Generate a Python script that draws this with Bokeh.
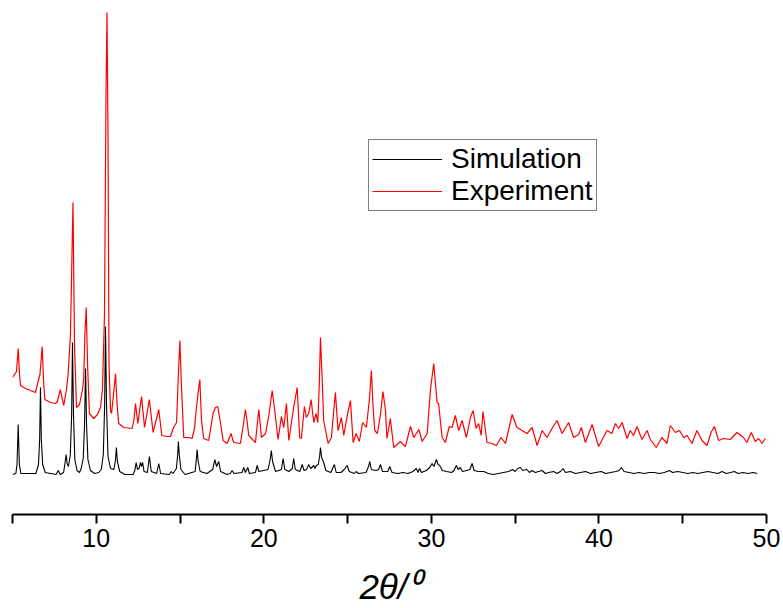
from bokeh.plotting import figure
from bokeh.models import Range1d, FixedTicker, Legend, LegendItem
from bokeh.embed import file_html
from bokeh.resources import INLINE

# Simulated pattern (2theta in degrees, intensity a.u.)
sim_theta = [5.00, 5.20, 5.27, 5.34, 5.41, 5.50, 6.40, 6.55, 6.62, 6.67, 6.72, 6.80, 6.95, 7.60, 7.73, 7.85,
             8.05, 8.14, 8.20, 8.26, 8.34, 8.45, 8.53, 8.58, 8.64, 8.72, 8.85, 9.00, 9.10, 9.16, 9.22, 9.30,
             9.36, 9.42, 9.50, 9.65, 9.90, 10.15, 10.30, 10.42, 10.50, 10.55, 10.61, 10.70, 10.85, 11.05, 11.15,
             11.20, 11.26, 11.40, 11.70, 12.20, 12.30, 12.38, 12.46, 12.55, 12.64, 12.70, 12.77, 12.85, 13.05,
             13.17, 13.28, 13.60, 13.73, 13.84, 14.35, 14.47, 14.58, 14.78, 14.86, 14.90, 14.95, 15.05, 15.30,
             15.90, 15.97, 16.02, 16.08, 16.20, 16.60, 16.95, 17.07, 17.18, 17.31, 17.42, 17.80, 18.00, 18.11,
             18.22, 18.70, 18.80, 18.90, 19.04, 19.14, 19.50, 19.60, 19.70, 20.25, 20.38, 20.45, 20.52, 20.70,
             21.05, 21.15, 21.25, 21.50, 21.70, 21.78, 21.88, 22.15, 22.29, 22.40, 22.55, 22.68, 22.80, 22.98,
             23.05, 23.14, 23.25, 23.33, 23.38, 23.45, 23.57, 23.70, 24.00, 24.21, 24.32, 24.60, 24.80, 24.97,
             25.10, 25.40, 25.51, 25.65, 26.10, 26.25, 26.32, 26.42, 26.70, 26.85, 26.96, 27.08, 27.40, 27.51,
             27.65, 28.00, 28.30, 28.60, 28.90, 29.10, 29.20, 29.30, 29.40, 29.70, 29.90, 30.04, 30.15, 30.30,
             30.40, 30.50, 30.65, 30.90, 31.20, 31.35, 31.49, 31.60, 31.73, 31.85, 32.10, 32.30, 32.43, 32.55,
             32.80, 33.12, 33.40, 33.70, 34.00, 34.30, 34.60, 34.85, 35.00, 35.15, 35.31, 35.45, 35.70, 35.85,
             36.01, 36.20, 36.40, 36.61, 36.80, 37.00, 37.30, 37.50, 37.70, 37.86, 38.00, 38.30, 38.60, 38.90,
             39.20, 39.50, 39.80, 40.14, 40.40, 40.70, 41.00, 41.20, 41.34, 41.50, 41.80, 42.10, 42.40, 42.70,
             43.00, 43.30, 43.60, 43.90, 44.21, 44.40, 44.70, 45.00, 45.30, 45.60, 45.90, 46.20, 46.50, 46.80,
             47.10, 47.35, 47.60, 47.85, 48.08, 48.30, 48.60, 48.90, 49.20, 49.45]
sim_int = [40, 41, 50, 90, 50, 41, 41, 50, 75, 127, 75, 50, 42, 40, 44, 40,
           42, 52, 60, 51, 48, 60, 100, 172, 100, 55, 44, 42, 46, 51, 56, 90,
           146, 90, 55, 44, 41, 42, 45, 60, 110, 188, 110, 58, 46, 45, 55,
           67, 53, 43, 40, 40, 44, 52, 45, 46, 52, 48, 52, 43, 42,
           58, 43, 41, 51, 41, 40, 43, 41, 46, 60, 73, 60, 45, 40,
           43, 55, 65, 53, 43, 41, 45, 55, 48, 53, 43, 40, 41, 44,
           41, 42, 47, 42, 47, 41, 42, 49, 43, 45, 55, 64, 53, 43,
           45, 56, 45, 43, 46, 56, 45, 43, 50, 44, 45, 50, 46, 49,
           46, 49, 50, 58, 67, 57, 52, 44, 42, 50, 42, 42, 45, 49,
           43, 41, 43, 41, 42, 48, 53, 45, 44, 45, 50, 43, 43, 48,
           42, 41, 42, 41, 43, 46, 42, 46, 42, 44, 47, 51, 48, 55,
           50, 49, 44, 43, 42, 44, 49, 45, 47, 43, 44, 45, 51, 44,
           43, 43, 41, 40, 41, 42, 43, 45, 43, 46, 47, 44, 45, 42,
           44, 42, 43, 44, 41, 42, 43, 41, 43, 46, 42, 43, 41, 42,
           43, 41, 42, 43, 41, 42, 43, 44, 47, 43, 42, 41, 42, 41,
           42, 42, 41, 42, 44, 42, 43, 42, 41, 42, 41, 42, 43, 42,
           41, 43, 41, 42, 43, 41, 42, 41, 42, 41]

# Experimental pattern (2theta in degrees, intensity a.u.)
exp_theta = [5.00, 5.12, 5.24, 5.34, 5.42, 5.48, 5.78, 6.07, 6.37, 6.51, 6.64, 6.77, 6.85, 6.93, 7.27, 7.57,
             7.68, 7.86, 7.95, 8.06, 8.22, 8.32, 8.46, 8.61, 8.70, 8.82, 9.00, 9.18, 9.25, 9.32, 9.40, 9.48,
             9.59, 9.85, 10.07, 10.25, 10.37, 10.49, 10.58, 10.64, 10.70, 10.76, 10.85, 10.91, 11.03, 11.15,
             11.24, 11.34, 11.64, 12.14, 12.25, 12.34, 12.48, 12.70, 12.88, 13.17, 13.39, 13.73, 13.91, 14.19,
             14.43, 14.61, 14.79, 14.90, 14.99, 15.08, 15.22, 15.50, 15.72, 15.86, 15.96, 16.10, 16.18, 16.28,
             16.41, 16.71, 16.97, 17.11, 17.25, 17.36, 17.57, 17.81, 18.04, 18.20, 18.60, 18.78, 18.90, 18.99,
             19.10, 19.50, 19.70, 19.86, 20.10, 20.29, 20.50, 20.65, 20.85, 21.05, 21.19, 21.35, 21.49, 21.78,
             21.99, 22.14, 22.24, 22.42, 22.54, 22.68, 22.82, 22.98, 23.12, 23.22, 23.31, 23.38, 23.47, 23.57,
             23.84, 24.03, 24.18, 24.27, 24.43, 24.63, 24.77, 24.99, 25.17, 25.33, 25.51, 25.70, 25.90, 26.12,
             26.30, 26.42, 26.51, 26.62, 26.78, 26.96, 27.11, 27.26, 27.35, 27.55, 27.75, 28.15, 28.45, 28.75,
             28.95, 29.25, 29.45, 29.75, 29.94, 30.14, 30.34, 30.43, 30.64, 30.83, 31.07, 31.23, 31.43, 31.63,
             31.83, 32.09, 32.33, 32.49, 32.67, 32.82, 32.97, 33.08, 33.32, 33.62, 33.88, 34.16, 34.42, 34.82,
             35.11, 35.41, 35.71, 36.01, 36.31, 36.61, 36.90, 37.20, 37.50, 37.80, 38.19, 38.49, 38.79, 38.95,
             39.19, 39.59, 39.98, 40.48, 40.78, 40.98, 41.18, 41.38, 41.68, 41.87, 42.07, 42.27, 42.57, 42.87,
             43.07, 43.42, 43.76, 44.06, 44.26, 44.56, 44.81, 45.05, 45.26, 45.55, 45.85, 46.15, 46.45, 46.69,
             46.89, 47.14, 47.44, 47.84, 48.24, 48.63, 48.83, 49.09, 49.33, 49.53, 49.73, 49.93]
exp_int = [137, 140, 143, 166, 140, 129, 126, 124, 122, 132, 140, 168, 135, 115, 112, 111,
           113, 125, 117, 109, 125, 140, 180, 312, 170, 107, 110, 125, 136, 180, 207, 150,
           101, 96, 100, 107, 125, 200, 420, 502, 380, 150, 104, 101, 120, 141,
           110, 91, 87, 86, 95, 111, 91, 118, 87, 115, 82, 105, 79, 78,
           78, 87, 92, 140, 174, 130, 77, 77, 76, 86, 104, 125, 135, 94,
           76, 74, 101, 107, 108, 97, 74, 71, 81, 72, 71, 90, 105, 95,
           79, 72, 105, 77, 81, 98, 124, 104, 75, 98, 87, 111, 74, 107,
           127, 77, 76, 108, 97, 101, 115, 92, 101, 92, 130, 177, 140, 94,
           71, 77, 105, 122, 84, 97, 79, 100, 114, 72, 81, 73, 92, 87,
           115, 144, 110, 84, 81, 100, 123, 104, 76, 96, 67, 73, 68, 88,
           77, 85, 73, 81, 124, 151, 112, 111, 77, 72, 88, 87, 99, 84,
           94, 77, 97, 104, 86, 91, 79, 103, 72, 71, 69, 77, 71, 100,
           87, 84, 81, 87, 69, 84, 77, 86, 94, 81, 92, 77, 80, 87,
           72, 90, 68, 84, 81, 91, 86, 92, 76, 84, 79, 88, 75, 84,
           75, 67, 77, 71, 89, 82, 84, 77, 79, 71, 84, 74, 69, 82,
           88, 74, 76, 75, 82, 77, 72, 82, 73, 76, 71, 76]

tick_values = [5, 10, 15, 20, 25, 30, 35, 40, 45, 50]
tick_labels = {5: "", 10: "10", 15: "", 20: "20", 25: "", 30: "30", 35: "", 40: "40", 45: "", 50: "50"}
series_names = ["Simulation", "Experiment"]

p = figure(width=783, height=608, output_backend="svg", toolbar_location=None,
           x_range=Range1d(5, 50), y_range=Range1d(0, 514),
           min_border_left=12, min_border_right=17, min_border_top=0, min_border_bottom=94)
p.outline_line_color = None
p.grid.visible = False
p.yaxis.visible = False
p.background_fill_color = "white"

r_sim = p.line(sim_theta, sim_int, line_color="black", line_width=1.1)
r_exp = p.line(exp_theta, exp_int, line_color="red", line_width=1.2)

ax = p.xaxis[0]
ax.ticker = FixedTicker(ticks=tick_values)
ax.major_label_overrides = tick_labels
ax.minor_tick_line_color = None
ax.major_tick_in = 0
ax.major_tick_out = 9
ax.major_tick_line_width = 2
ax.axis_line_width = 2
ax.axis_line_color = "black"
ax.major_tick_line_color = "black"
ax.major_label_text_font = "Liberation Sans"
ax.major_label_text_font_size = "25px"
ax.major_label_text_color = "black"
ax.major_label_standoff = 5
ax.axis_label = "2θ/⁰"
ax.axis_label_text_font = "Liberation Sans"
ax.axis_label_text_font_style = "italic"
ax.axis_label_text_font_size = "35px"
ax.axis_label_text_color = "black"
ax.axis_label_standoff = 17

legend = Legend(items=[LegendItem(label=series_names[0], renderers=[r_sim]),
                       LegendItem(label=series_names[1], renderers=[r_exp])],
                location=(356, 303))
legend.border_line_color = "black"
legend.border_line_width = 1
legend.padding = 3
legend.spacing = 0
legend.margin = 0
legend.glyph_width = 70
legend.glyph_height = 28
legend.label_height = 28
legend.label_standoff = 9
legend.label_text_font = "Liberation Sans"
legend.label_text_font_size = "28px"
legend.label_text_color = "black"
legend.background_fill_alpha = 1
p.add_layout(legend, "center")

open("out.html", "w").write(file_html(p, INLINE))
